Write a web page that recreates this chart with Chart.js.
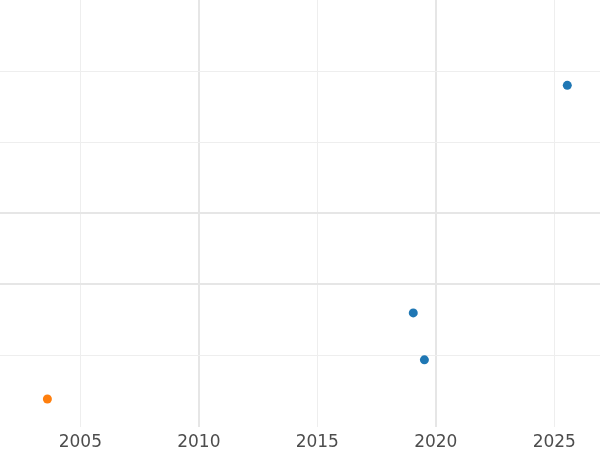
<!DOCTYPE html>
<html>
<head>
<meta charset="utf-8">
<script src="https://cdn.jsdelivr.net/npm/chart.js@4"></script>
<style>
  body { margin: 0; background: #fff; }
  #grafico { display: block; }
</style>
</head>
<body>
<canvas id="grafico" width="600" height="450"></canvas>
<script>
// datos
const serieAzulX = [2019.05, 2019.52, 2025.55]
const serieAzulY = [1.60, 0.94, 4.80]
const serieNaranjaX = [2003.61]
const serieNaranjaY = [0.39]
const ticksX = [2005, 2010, 2015, 2020, 2025]
const ticksY = [1, 2, 3, 4, 5]
const mayoresX = [2010, 2020]
const mayoresY = [2, 3]

const puntos = (xs, ys) => xs.map((x, i) => ({ x: x, y: ys[i] }))

const anchoGrilla = (mayores) => (ctx) => mayores.includes(ctx.tick.value) ? 2 : 1
const colorGrilla = (mayores) => (ctx) => mayores.includes(ctx.tick.value) ? '#e6e6e6' : '#eeeeee'

const config = {
    type: 'scatter',
    data: {
        datasets: [{
            label: 'azul',
            data: puntos(serieAzulX, serieAzulY),
            backgroundColor: '#1f77b4',
            borderColor: '#1f77b4',
            pointRadius: 4.5,
            borderWidth: 0
        }, {
            label: 'naranja',
            data: puntos(serieNaranjaX, serieNaranjaY),
            backgroundColor: '#ff7f0e',
            borderColor: '#ff7f0e',
            pointRadius: 4.5,
            borderWidth: 0
        }]
    },
    options: {
        responsive: false,
        animation: false,
        layout: { padding: 0, autoPadding: false },
        plugins: {
            legend: { display: false },
            tooltip: { enabled: false }
        },
        scales: {
            x: {
                type: 'linear',
                min: 2001.61,
                max: 2026.93,
                afterBuildTicks: (axis) => { axis.ticks = ticksX.map(v => ({ value: v })) },
                afterFit: (axis) => { axis.height = 23.3 },
                border: { display: false },
                grid: {
                    drawTicks: false,
                    lineWidth: anchoGrilla(mayoresX),
                    color: colorGrilla(mayoresX)
                },
                ticks: {
                    padding: 6,
                    color: '#4d4d4d',
                    maxRotation: 0,
                    font: { family: 'DejaVu Sans', size: 17 },
                    callback: (v) => String(v)
                }
            },
            y: {
                type: 'linear',
                min: 0,
                max: 6,
                afterBuildTicks: (axis) => { axis.ticks = ticksY.map(v => ({ value: v })) },
                border: { display: false },
                grid: {
                    drawTicks: false,
                    lineWidth: anchoGrilla(mayoresY),
                    color: colorGrilla(mayoresY)
                },
                ticks: { display: false }
            }
        }
    }
}

const lienzo = document.getElementById('grafico')
new Chart(lienzo, config)
</script>
</body>
</html>
